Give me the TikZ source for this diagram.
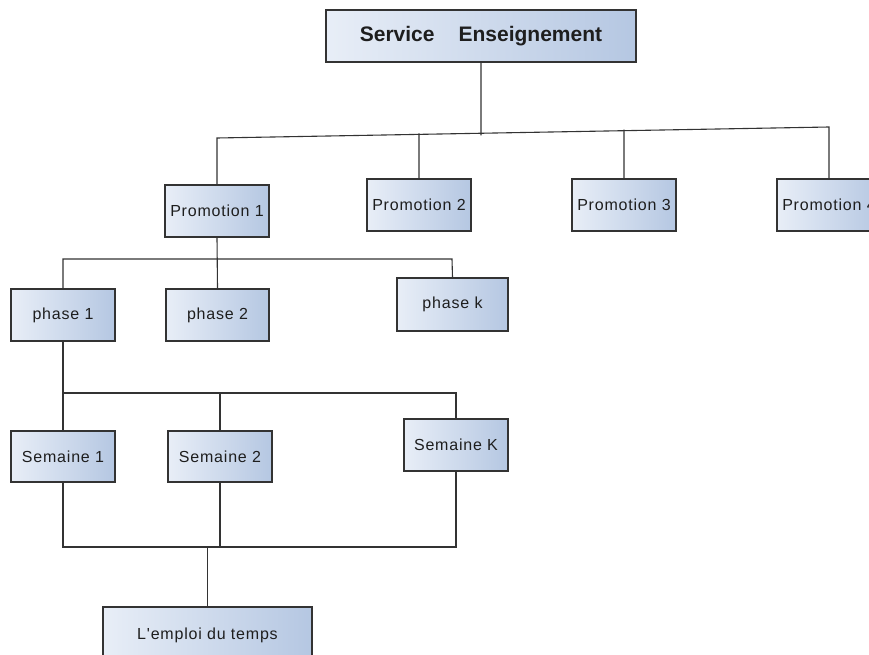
\documentclass[tikz,border=0pt]{standalone}
\usepackage{fontspec}
\setmainfont{Liberation Sans}
\newfontfamily\boxfont[LetterSpace=5]{Liberation Sans}
\newfontfamily\titlefont{Liberation Sans}
\usetikzlibrary{calc}
\definecolor{boxlight}{HTML}{E8EEF7}
\definecolor{boxdark}{HTML}{B5C7E2}
\definecolor{edgegray}{HTML}{333333}
\definecolor{inkgray}{HTML}{1E1E1E}
\tikzset{
  unitbox/.style={draw=edgegray, line width=1.2pt, rectangle,
    left color=boxlight, right color=boxdark, inner sep=0pt,
    text=inkgray, font=\boxfont\fontsize{16}{19}\selectfont},
  titlebox/.style={unitbox, font=\titlefont\bfseries\fontsize{21}{25}\selectfont},
  link/.style={draw=edgegray, line width=1.1pt}
}
\begin{document}
\begin{tikzpicture}[x=1pt, y=-1pt]
\useasboundingbox (0,0) rectangle (869,655);
\fill[white] (0,0) rectangle (869,655);
\clip (0,0) rectangle (869,655);

% boxes
\node[titlebox, minimum width=310pt, minimum height=52pt] (serv) at (481,36) {Service\hspace{24pt}Enseignement};

\node[unitbox, minimum width=104pt, minimum height=52pt] (p1) at (217,211) {Promotion 1};
\node[unitbox, minimum width=104pt, minimum height=52pt] (p2) at (419,205) {Promotion 2};
\node[unitbox, minimum width=104pt, minimum height=52pt] (p3) at (624,205) {Promotion 3};
\node[unitbox, minimum width=104pt, minimum height=52pt] (p4) at (829,205) {Promotion 4};

\node[unitbox, minimum width=104pt, minimum height=52pt] (ph1) at (63,315) {phase 1};
\node[unitbox, minimum width=103pt, minimum height=52pt] (ph2) at (217.5,315) {phase 2};
\node[unitbox, minimum width=111pt, minimum height=53pt] (phk) at (452.5,304.5) {phase k};

\node[unitbox, minimum width=104pt, minimum height=51pt] (s1) at (63,456.5) {Semaine 1};
\node[unitbox, minimum width=104pt, minimum height=51pt] (s2) at (220,456.5) {Semaine 2};
\node[unitbox, minimum width=104pt, minimum height=52pt] (sk) at (456,445) {Semaine K};

\node[unitbox, minimum width=209pt, minimum height=56pt] (emp) at (207.5,635) {L'emploi du temps};

% bus under the service
\coordinate (busL) at (217,138);
\coordinate (busR) at (829,127);
\coordinate (jserv) at ($(busL)!0.4314!(busR)$);
\coordinate (jp2) at ($(busL)!0.3301!(busR)$);
\coordinate (jp3) at ($(busL)!0.6650!(busR)$);
\draw[link] (p1.north) -- (busL) -- (busR) -- (p4.north);
\draw[link] (serv.south) -- ($(jserv)+(0,2)$);
\draw[link] (p2.north) -- ($(jp2)-(0,1)$);
\draw[link] (p3.north) -- ($(jp3)-(0,1)$);

% phases of promotion 1
\coordinate (pb1) at (63,259);
\coordinate (pbk) at (452,259);
\draw[link] (ph1.north) -- (pb1) -- (pbk) -- (phk.north);
\draw[link] (p1.south) -- (ph2.north);

% weeks of phase 1
\coordinate (sb1) at (63,393);
\coordinate (sbk) at (456,393);
\draw[link] (ph1.south) -- (s1.north);
\draw[link] (sb1) -- (sbk) -- (sk.north);
\draw[link] (s2.north) -- ($(s2.north |- sb1)-(0,1)$);

% weeks joined to the timetable
\coordinate (eb1) at (63,547);
\coordinate (ebk) at (456,547);
\draw[link] (s1.south) -- (eb1) -- (ebk) -- (sk.south);
\draw[link] (s2.south) -- ($(s2.south |- eb1)+(0,1)$);
\draw[link] (emp.north) -- (emp.north |- eb1);
\end{tikzpicture}
\end{document}
